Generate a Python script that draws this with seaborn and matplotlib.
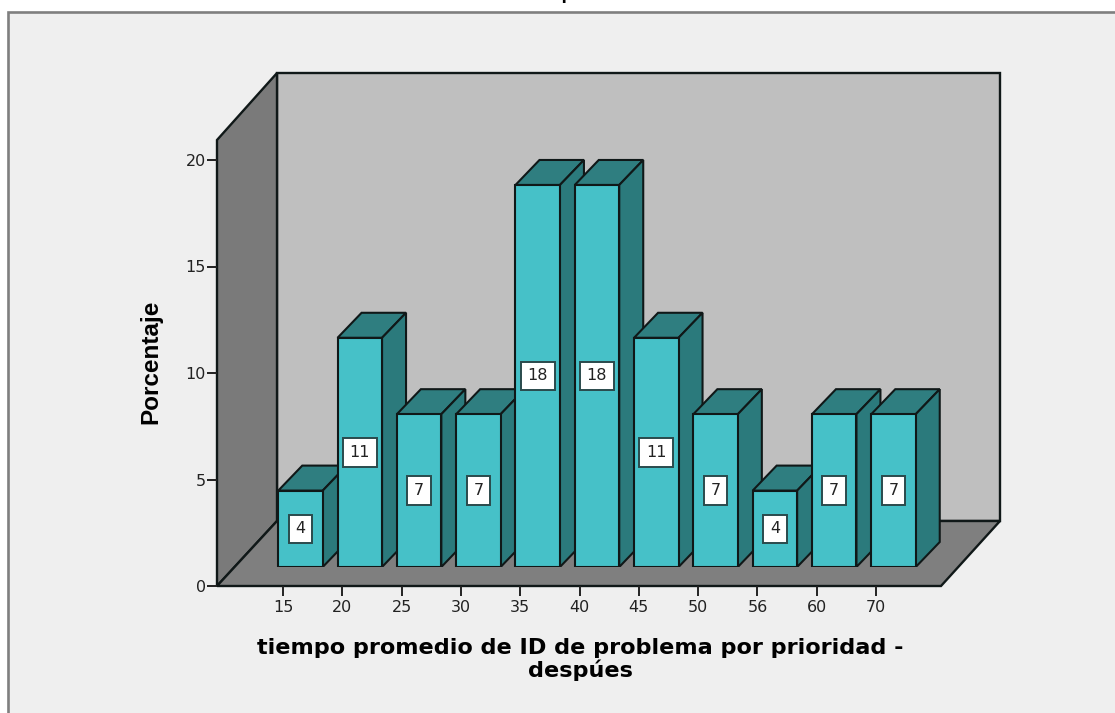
import matplotlib
matplotlib.use("Agg")
import matplotlib.pyplot as plt
from matplotlib.patches import Polygon, Rectangle
import pandas as pd
import seaborn as sns

# Distribution of the average problem-identification time
categories = ["15", "20", "25", "30", "35", "40", "45", "50", "56", "60", "70"]
percentages = [3.7, 11.1, 7.4, 7.4, 18.5, 18.5, 11.1, 7.4, 3.7, 7.4, 7.4]
y_ticks = [0, 5, 10, 15, 20]
x_title = "tiempo promedio de ID de problema por prioridad -\ndespúes"
y_title = "Porcentaje"
chart_title = "despúes"

W, H = 1115, 713
FRONT = "#46C1C8"
TOP = "#2F7E80"
SIDE = "#2B7A7C"
PANEL = "#EFEFEF"
INK = "#101818"

sns.set_theme(style="white")
plt.rcParams["font.family"] = ["DejaVu Sans"]

fig = plt.figure(figsize=(W / 100, H / 100), dpi=100, facecolor="white")


def px_axes(left, right, bottom, top):
    """Axes placed with pixel edges measured from the top-left corner."""
    return fig.add_axes([left / W, 1 - bottom / H, (right - left) / W, (bottom - top) / H])


def to_fig(points):
    return [(x / W, 1 - y / H) for x, y in points]


def fig_poly(points, **kw):
    fig.add_artist(Polygon(to_fig(points), closed=True, transform=fig.transFigure, zorder=-5, **kw))


# Outer panel, running off the right and bottom edges
fig.add_artist(Rectangle((8 / W, -0.05), 1.1, 1 - 12 / H + 0.05, transform=fig.transFigure,
                         facecolor=PANEL, edgecolor="#7F7F7F", linewidth=1.9, zorder=-10))
fig.text(568 / W, 1 + 1 / H, chart_title, ha="center", va="baseline",
         fontsize=14, fontweight="bold", color="black", fontfamily="Liberation Sans")

# Box walls and floor
WALL = dict(edgecolor=INK, linewidth=1.7, joinstyle="miter")
fig_poly([(277, 73), (1000, 73), (1000, 521), (277, 521)], facecolor="#BFBFBF", **WALL)
fig_poly([(217, 140), (277, 73), (277, 521), (217, 586)], facecolor="#7A7A7A", **WALL)
fig_poly([(217, 586), (277, 521), (1000, 521), (941, 586)], facecolor="#7F7F7F", **WALL)

# Front plane of the box carries the axis ticks and titles
PITCH = 59.3
FIRST_TICK = 283
ax = px_axes(217, 941, 586, 140)
ax.patch.set_alpha(0)
ax.set_xlim((217 - FIRST_TICK) / PITCH, (941 - FIRST_TICK) / PITCH)
ax.set_ylim(0, (586 - 140) / 21.3)
ax.set_xticks(range(len(categories)), categories)
ax.set_yticks(y_ticks)
ax.tick_params(axis="y", length=7.5, width=1.4, color="#222222", labelsize=11.5,
               labelcolor="#222222", pad=0.5, left=True)
ax.tick_params(axis="x", length=7.5, width=1.4, color="#222222", labelsize=11.5,
               labelcolor="#222222", pad=2.5, bottom=True)
for spine in ax.spines.values():
    spine.set_visible(False)
fig.text(580 / W, 1 - 659.5 / H, x_title, ha="center", va="center", fontsize=16.1,
         fontweight="bold", color="black", linespacing=1.1)
fig.text(151 / W, 1 - 362 / H, y_title, ha="center", va="center", rotation=90,
         fontsize=17.5, fontweight="bold", color="black", fontfamily="Liberation Sans")

# Bars stand partway into the box, so their plane is shifted from the front one
BAR_X = 17.5
BAR_BASE = 567
BAR_SCALE = 20.65
DX, DY = 24, 25
bars_ax = px_axes(217 + BAR_X, 941 + BAR_X, BAR_BASE, BAR_BASE - 21 * BAR_SCALE)
bars_ax.patch.set_alpha(0)
df = pd.DataFrame({"tiempo": categories, "porcentaje": percentages})
sns.barplot(data=df, x="tiempo", y="porcentaje", order=categories, color=FRONT, saturation=1,
            width=0.75, edgecolor=INK, linewidth=1.5, ax=bars_ax, zorder=3)
bars_ax.set_xlim((217 - FIRST_TICK) / PITCH, (941 - FIRST_TICK) / PITCH)
bars_ax.set_ylim(0, 21)
bars_ax.axis("off")

# Extrude each bar into the box: top and side faces follow the front face
fig.canvas.draw()
for patch, value in zip(bars_ax.patches, percentages):
    x0, y0 = bars_ax.transData.transform((patch.get_x(), 0))
    x1, y1 = bars_ax.transData.transform((patch.get_x() + patch.get_width(), value))
    edge = dict(edgecolor=INK, linewidth=1.5, joinstyle="miter", zorder=2,
                transform=None)
    bars_ax.add_artist(Polygon([(x0, y1), (x1, y1), (x1 + DX, y1 + DY), (x0 + DX, y1 + DY)],
                               closed=True, facecolor=TOP, **edge))
    bars_ax.add_artist(Polygon([(x1, y0), (x1 + DX, y0 + DY), (x1 + DX, y1 + DY), (x1, y1)],
                               closed=True, facecolor=SIDE, **edge))
    bars_ax.text(patch.get_x() + patch.get_width() / 2, value / 2, f"{value:.0f}",
                 ha="center", va="center", fontsize=11.5, color="#222222", zorder=5,
                 bbox=dict(boxstyle="square,pad=0.42", facecolor="white",
                           edgecolor="#2A4A4C", linewidth=1.4))

fig.savefig("out.png", dpi=100, facecolor="white")
